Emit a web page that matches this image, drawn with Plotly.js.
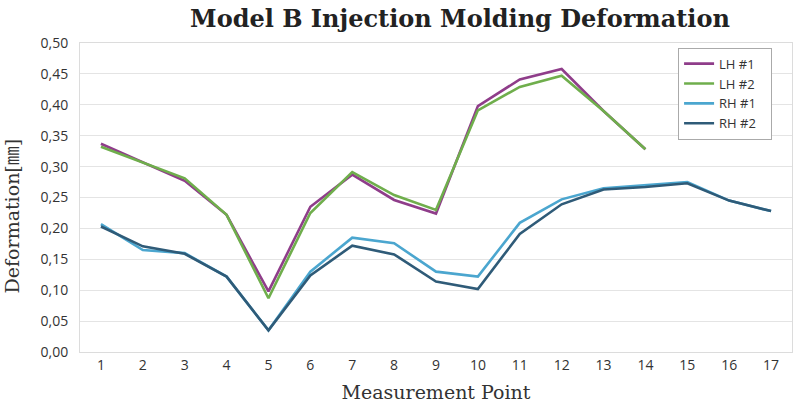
<!DOCTYPE html>
<html><head><meta charset="utf-8">
<script src="https://cdn.plot.ly/plotly-3.0.1.min.js"></script>
<style>html,body{margin:0;padding:0;background:#fff;}#chart{width:800px;height:410px;}</style>
</head><body><div id="chart"></div>
<script>
const points = ["1","2","3","4","5","6","7","8","9","10","11","12","13","14","15","16","17"];
const lh1 = [0.337,0.307,0.277,0.222,0.098,0.235,0.287,0.246,0.224,0.398,0.441,0.458,0.390,0.328];
const lh2 = [0.332,0.307,0.281,0.222,0.087,0.225,0.291,0.254,0.230,0.391,0.429,0.447,0.390,0.328];
const rh1 = [0.207,0.165,0.160,0.122,0.035,0.130,0.185,0.176,0.130,0.122,0.209,0.247,0.265,0.270,0.275,0.245,0.228];
const rh2 = [0.203,0.171,0.159,0.122,0.035,0.124,0.172,0.158,0.114,0.102,0.191,0.239,0.263,0.267,0.273,0.245,0.228];
const names = ["LH #1","LH #2","RH #1","RH #2"];
const colors = ["#8f3d8a","#6fae4c","#4ba6cf","#2f5b78"];
const series = [lh1,lh2,rh1,rh2];
const traces = series.map((s,i)=>({
  x: points.slice(0,s.length), y: s, name: names[i] + '\u00a0\u00a0\u00a0', type:'scatter', mode:'lines',
  line:{color:colors[i], width:2.6}
}));
const layout = {
  width:800, height:410,
  margin:{l:80, r:8, t:43, b:58},
  paper_bgcolor:'#fff', plot_bgcolor:'#fff',
  separators:',.',
  title:{text:'<b>Model B Injection Molding Deformation</b>', x:0.575, xanchor:'center', y:0.955, yanchor:'middle',
    font:{family:'DejaVu Serif', size:24, color:'#222'}},
  xaxis:{type:'category', range:[-0.5,16.5], showgrid:false, zeroline:false,
    showline:true, mirror:true, linecolor:'#dcdcdc', linewidth:1, ticks:'',
    tickfont:{family:'Open Sans', size:14, color:'#333'},
    title:{text:'Measurement Point', standoff:12, font:{family:'DejaVu Serif', size:19, color:'#333'}}},
  yaxis:{range:[0,0.5], dtick:0.05, tickformat:'.2f', gridcolor:'#e4e4e4', gridwidth:1, zeroline:false,
    showline:true, mirror:true, linecolor:'#dcdcdc', linewidth:1, ticks:'', ticklabelstandoff:8,
    tickfont:{family:'Open Sans', size:14, color:'#333'}},
  annotations:[{text:'Deformation[㎜]', xref:'paper', yref:'paper', x:-0.095, y:0.44, xanchor:'center', yanchor:'middle',
    textangle:-90, showarrow:false, font:{family:'DejaVu Serif, Noto Sans CJK JP', size:19, color:'#333'}}],
  legend:{x:0.84, xanchor:'left', y:0.985, yanchor:'top', bgcolor:'#fff', bordercolor:'#aaa', borderwidth:1,
    font:{family:'Open Sans', size:13, color:'#333'}, tracegroupgap:0, itemwidth:30},
  showlegend:true
};
Plotly.newPlot('chart', traces, layout, {displayModeBar:false, staticPlot:true});
</script></body></html>
